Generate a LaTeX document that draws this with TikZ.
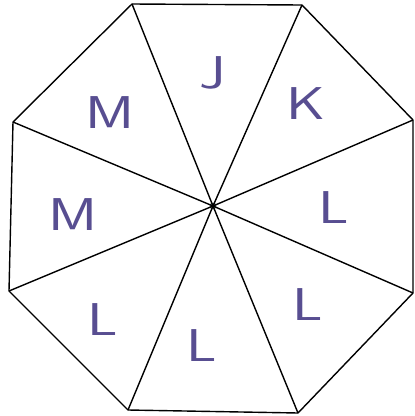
\documentclass[tikz,border=0pt]{standalone}
\usepackage{tikz}
\usetikzlibrary{positioning}
\definecolor{penPurple}{RGB}{88, 78, 145}
\definecolor{pinGrey}{RGB}{120, 140, 135}

\begin{document}
\begin{tikzpicture}[
  x=1pt, y=-1pt,
  edge/.style={draw=black, line width=1.4pt, line join=round},
  letter/.style={font=\sffamily\fontsize{46}{46}\selectfont\color{penPurple}, inner sep=0pt, xscale=1.3},
]
\useasboundingbox (0,0) rectangle (415,416);

% Octagon corners
\coordinate (tl) at (132,4);
\coordinate (tr) at (302,5);
\coordinate (ru) at (413,120);
\coordinate (rl) at (413,293);
\coordinate (br) at (298,413);
\coordinate (bl) at (128,410);
\coordinate (ll) at (9,291);
\coordinate (lu) at (13,122);

% Pivot in the middle
\node[circle, fill=pinGrey, inner sep=0pt, minimum size=7pt] (pivot) at (213,206) {};

% Outline and spokes
\draw[edge] (tl) -- (tr) -- (ru) -- (rl) -- (br) -- (bl) -- (ll) -- (lu) -- cycle;
\draw[edge] (pivot.center) -- (tl);
\draw[edge] (pivot.center) -- (tr);
\draw[edge] (pivot.center) -- (ru);
\draw[edge] (pivot.center) -- (rl);
\draw[edge] (pivot.center) -- (br);
\draw[edge] (pivot.center) -- (bl);
\draw[edge] (pivot.center) -- (ll);
\draw[edge] (pivot.center) -- (lu);

% Sector letters
\node[letter] (secJ) at (213,73) {J};
\node[letter] (secK) at (306,104) {K};
\node[letter] (secLr) at (334,208) {L};
\node[letter] (secLbr) at (308,305) {L};
\node[letter] (secLb) at (202,346) {L};
\node[letter] (secLbl) at (103,320) {L};
\node[letter] (secMl) at (73,215) {M};
\node[letter] (secMtl) at (110,113) {M};

\end{tikzpicture}
\end{document}
